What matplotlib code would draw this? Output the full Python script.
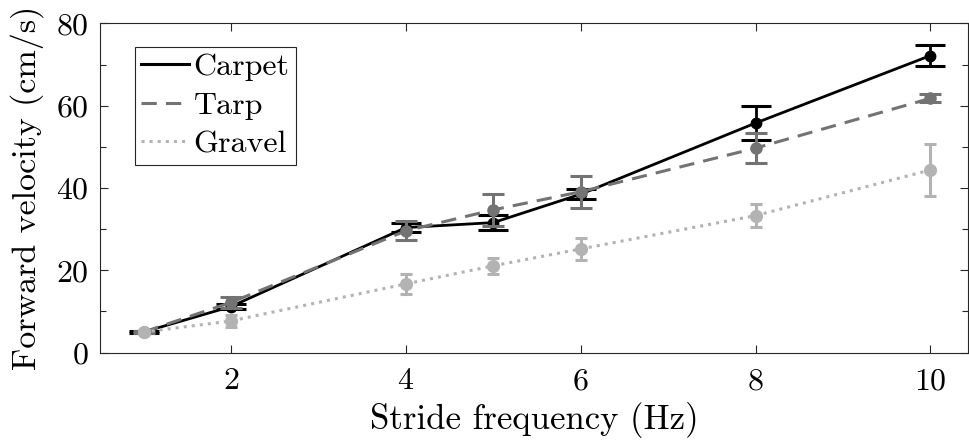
import numpy as np
import matplotlib
matplotlib.use('Agg')
import matplotlib.pyplot as plt
from matplotlib.ticker import MultipleLocator
from matplotlib.lines import Line2D

# fonte estilo LaTeX (Computer Modern que vem com o matplotlib)
plt.rcParams['font.family'] = ['cmr10', 'DejaVu Serif']
plt.rcParams['axes.formatter.use_mathtext'] = True

# frequências de passada (Hz)
freq = [1, 2, 4, 5, 6, 8, 10]

# velocidade média e desvio para cada superfície (cm/s)
carpet = [5.0, 11.2, 30.4, 31.6, 38.5, 55.8, 72.2]
carpet_err = [0.3, 0.6, 1.0, 1.9, 1.2, 4.1, 2.5]

tarp = [5.0, 12.2, 29.6, 34.7, 39.1, 49.7, 61.8]
tarp_err = [0.3, 1.3, 2.3, 3.9, 3.9, 3.7, 1.0]

gravel = [5.0, 7.7, 16.7, 21.1, 25.2, 33.3, 44.4]
gravel_err = [0.4, 1.4, 2.4, 2.0, 2.7, 2.8, 6.3]

labels = ['Carpet', 'Tarp', 'Gravel']
cores = ['black', '#737373', '#b3b3b3']
estilos = ['-', (0, (5, 3)), ':']

fig = plt.figure(figsize=(9.69, 4.43), dpi=100)
ax = fig.add_axes([0.103, 0.204, 0.896, 0.743])

# mesma ordem do original: carpet por baixo, gravel por cima
ax.errorbar(freq, carpet, yerr=carpet_err, color=cores[0], ls=estilos[0], lw=2.0,
            marker='o', ms=7.5, capsize=10.5, capthick=2.2, elinewidth=2.0, zorder=2)
ax.errorbar(freq, tarp, yerr=tarp_err, color=cores[1], ls=estilos[1], lw=2.2,
            marker='o', ms=8, capsize=8, capthick=2.2, elinewidth=2.2, zorder=3)
ax.errorbar(freq, gravel, yerr=gravel_err, color=cores[2], ls=estilos[2], lw=2.2,
            marker='o', ms=8.5, capsize=4.5, capthick=2.2, elinewidth=2.2, zorder=4)

ax.set_xlim(0.5, 10.43)
ax.set_ylim(0, 80)
ax.set_xticks([2, 4, 6, 8, 10])
ax.set_yticks([0, 20, 40, 60, 80])
ax.yaxis.set_minor_locator(MultipleLocator(10))

ax.tick_params(which='both', direction='in', top=True, right=True,
               labelsize=23, color='#262626', width=0.8)
ax.tick_params(which='major', length=6)
ax.tick_params(axis='x', which='major', pad=11)
ax.tick_params(axis='y', which='major', pad=8)
ax.tick_params(which='minor', length=4)
for s in ax.spines.values():
    s.set_color('#262626')
    s.set_linewidth(0.8)

ax.set_xlabel('Stride frequency (Hz)', fontsize=25, labelpad=5)
ax.set_ylabel('Forward velocity (cm/s)', fontsize=24.5, labelpad=9)

# legenda só com as linhas (sem marcadores)
handles = [Line2D([], [], color=c, ls=e, lw=2.2) for c, e in zip(cores, estilos)]
leg = ax.legend(handles, labels,
                loc='upper left', bbox_to_anchor=(0.04, 0.93),
                fontsize=23, frameon=True, fancybox=False, framealpha=1,
                handlelength=1.5, handletextpad=0.15, borderpad=0.2,
                labelspacing=0.32, borderaxespad=0)
leg.get_frame().set_edgecolor('#262626')
leg.get_frame().set_linewidth(0.8)

fig.savefig('out.png', dpi=100)
